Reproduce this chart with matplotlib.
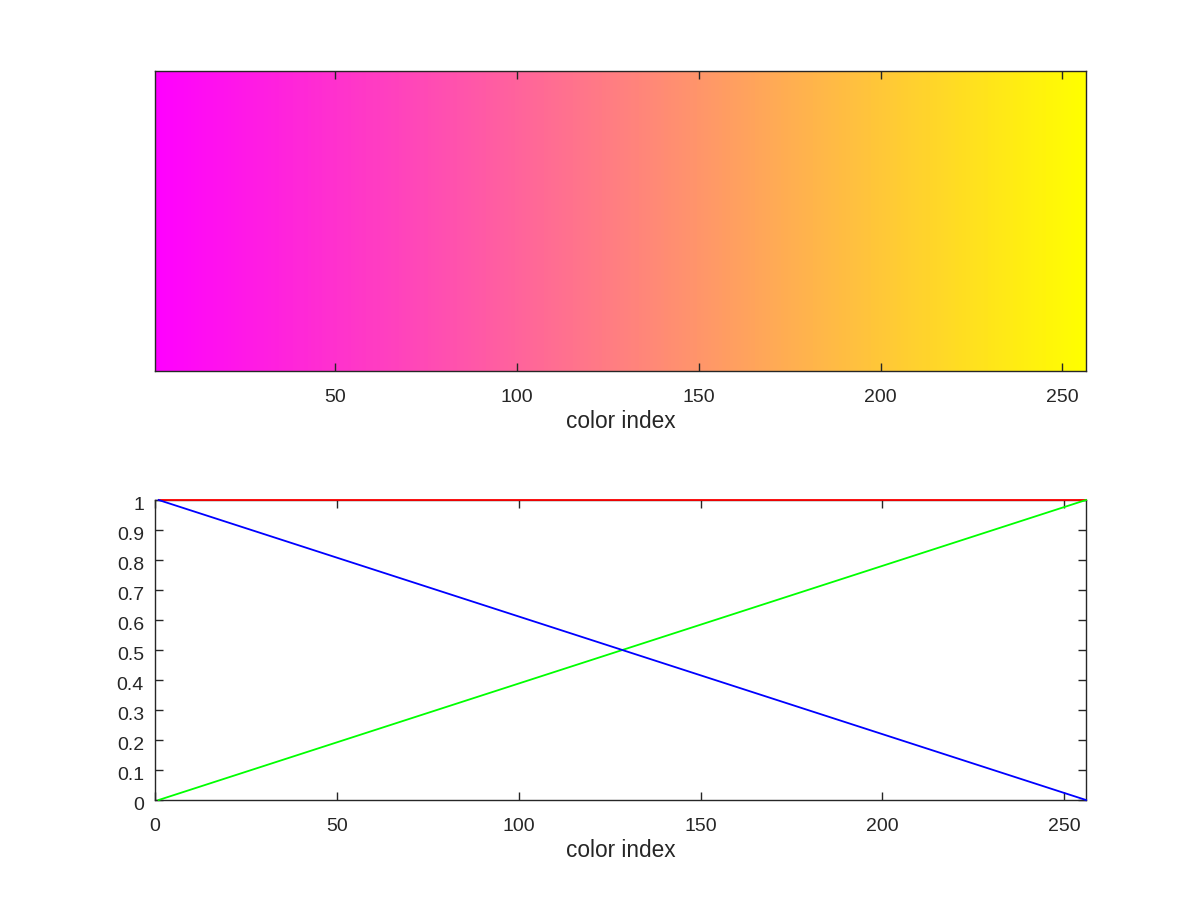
import numpy as np
import matplotlib
matplotlib.use("Agg")
import matplotlib.pyplot as plt
import matplotlib.transforms as mtransforms
from matplotlib.colors import LinearSegmentedColormap

# Data
n_colors = 256
map_start_color = [1.0, 0.0, 1.0]   # magenta
map_end_color = [1.0, 1.0, 0.0]     # yellow
line_x = [1, 256]
red_vals = [1.0, 1.0]
green_vals = [0.0, 1.0]
blue_vals = [1.0, 0.0]
top_xticks = [50, 100, 150, 200, 250]
bot_xticks = [0, 50, 100, 150, 200, 250]
bot_yticks = [0, 0.1, 0.2, 0.3, 0.4, 0.5, 0.6, 0.7, 0.8, 0.9, 1]
xlabel_text = "color index"

plt.rcParams['font.family'] = ['Liberation Sans', 'DejaVu Sans']
plt.rcParams['font.size'] = 14
txt = '#262626'

fig = plt.figure(figsize=(12, 9), dpi=100)

cmap = LinearSegmentedColormap.from_list("spring_like", [map_start_color, map_end_color], N=n_colors)

ax1 = fig.add_axes([155/1200, 1 - 371/900, 931/1200, 300/900])
idx = np.arange(1, n_colors + 1).reshape(1, -1)
ax1.imshow(idx, cmap=cmap, aspect='auto', extent=[0.5, n_colors + 0.5, 0.5, 1.5], interpolation='nearest')
ax1.set_xlim(0.5, n_colors + 0.5)
ax1.set_ylim(0.5, 1.5)
ax1.set_xticks(top_xticks)
ax1.set_yticks([])
ax1.set_xlabel(xlabel_text, fontsize=16.3, color=txt, labelpad=3)

ax2 = fig.add_axes([155/1200, 1 - 800/900, 931/1200, 300/900])
ax2.plot(line_x, red_vals, color='#ff0000', lw=1.3, clip_on=False, zorder=5)
ax2.plot(line_x, green_vals, color='#00ff00', lw=1.3, clip_on=False, zorder=5)
ax2.plot(line_x, blue_vals, color='#0000ff', lw=1.3, clip_on=False, zorder=5)
ax2.set_xlim(0, 256)
ax2.set_ylim(0, 1)
ax2.set_xticks(bot_xticks)
ax2.set_yticks(bot_yticks)
ax2.set_yticklabels([('%g' % v) for v in bot_yticks])
ax2.set_xlabel(xlabel_text, fontsize=16.3, color=txt, labelpad=3)

for ax in (ax1, ax2):
    for s in ax.spines.values():
        s.set_color(txt)
        s.set_linewidth(1.0)
    ax.tick_params(direction='in', top=True, right=True, length=6, width=1,
                   colors=txt, labelcolor=txt, labelsize=14)
    ax.tick_params(axis='x', pad=13)
    ax.tick_params(axis='y', pad=8)

offset = mtransforms.ScaledTranslation(0, -2.5 / 72, fig.dpi_scale_trans)
for lbl in ax2.get_yticklabels():
    lbl.set_transform(lbl.get_transform() + offset)

fig.savefig("out.png", dpi=100)
